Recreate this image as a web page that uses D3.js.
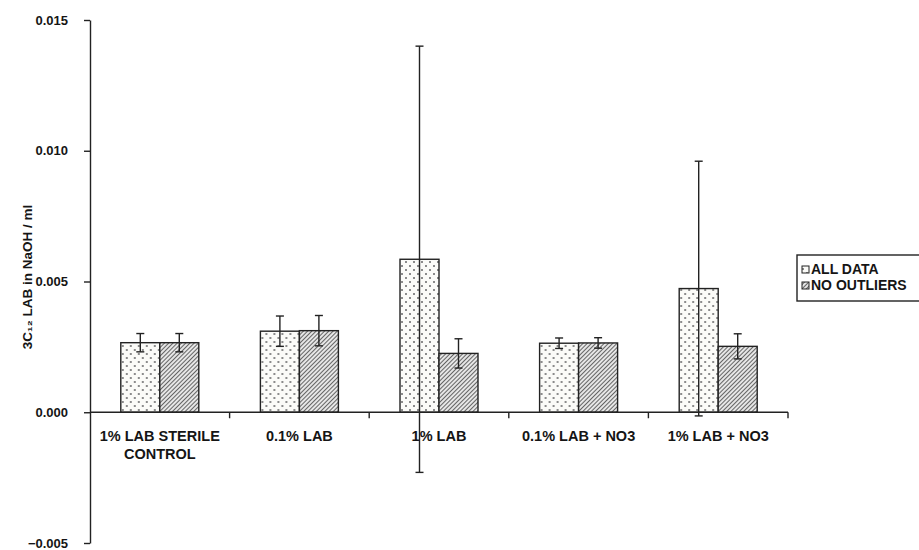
<!DOCTYPE html>
<html>
<head>
<meta charset="utf-8">
<script src="https://cdn.jsdelivr.net/npm/d3@7"></script>
<style>
  html, body { margin: 0; padding: 0; background: #fff; }
  svg { display: block; }
  text { font-family: "Liberation Sans", Arial, sans-serif; fill: #151515; font-weight: bold; }
</style>
</head>
<body>
<svg id="chart" width="919" height="550"></svg>
<script>
// ---- data ----
const categories = ["1% LAB STERILE CONTROL", "0.1% LAB", "1% LAB", "0.1% LAB + NO3", "1% LAB + NO3"];
const categoryLines = [["1% LAB STERILE", "CONTROL"], ["0.1% LAB"], ["1% LAB"], ["0.1% LAB + NO3"], ["1% LAB + NO3"]];
const seriesNames = ["ALL DATA", "NO OUTLIERS"];
const allData = [0.00266, 0.00310, 0.00585, 0.00264, 0.00473];
const allDataErr = [0.00035, 0.00058, 0.00815, 0.00020, 0.00487];
const noOutliers = [0.00266, 0.00312, 0.00225, 0.00265, 0.00252];
const noOutliersErr = [0.00035, 0.00058, 0.00056, 0.00020, 0.00048];
const yTicks = [-0.005, 0.000, 0.005, 0.010, 0.015];
const yLabel = "3C\u2081\u2082 LAB in NaOH / ml";

(function () {
const svg = d3.select("#chart");
const defs = svg.append("defs");

// dotted pattern
const dots = defs.append("pattern").attr("id", "dots").attr("patternUnits", "userSpaceOnUse")
  .attr("width", 8).attr("height", 8);
dots.append("rect").attr("width", 8).attr("height", 8).attr("fill", "#fbfbf8");
dots.append("circle").attr("cx", 2).attr("cy", 2).attr("r", 1).attr("fill", "#666");
dots.append("circle").attr("cx", 6).attr("cy", 6).attr("r", 1).attr("fill", "#666");

// hatched pattern
const hatch = defs.append("pattern").attr("id", "hatch").attr("patternUnits", "userSpaceOnUse")
  .attr("width", 3).attr("height", 3).attr("patternTransform", "rotate(45)");
hatch.append("rect").attr("width", 3).attr("height", 3).attr("fill", "#e6e6e6");
hatch.append("line").attr("x1", 0).attr("y1", 0).attr("x2", 0).attr("y2", 3)
  .attr("stroke", "#3a3a3a").attr("stroke-width", 1.5);

const fills = ["url(#dots)", "url(#hatch)"];

const pLeft = 90, pRight = 788, pTop = 20, pBottom = 543;

const y = d3.scaleLinear().domain([-0.005, 0.015]).range([pBottom, pTop]);
const x0 = d3.scaleBand().domain(categories).range([pLeft, pRight]).paddingInner(0).paddingOuter(0);
const x1 = d3.scaleBand().domain(seriesNames).range([0, 78]).padding(0);

// y axis
const yAxis = d3.axisLeft(y).tickValues(yTicks).tickFormat(d3.format(".3f")).tickSize(6).tickSizeOuter(0);
const gy = svg.append("g").attr("transform", `translate(${pLeft},0)`).call(yAxis);
gy.select(".domain").attr("stroke", "#222").attr("stroke-width", 1.4);
gy.selectAll(".tick line").attr("stroke", "#222").attr("stroke-width", 1.4);
gy.selectAll(".tick text").attr("x", -22).attr("font-size", 13)
  .attr("font-family", "Liberation Sans, Arial, sans-serif").attr("font-weight", "bold").attr("fill", "#151515");

// y label
svg.append("text")
  .attr("transform", `translate(32,${277}) rotate(-90)`)
  .attr("text-anchor", "middle")
  .attr("font-size", 13.5)
  .text(yLabel);

// bars
const groups = svg.append("g").selectAll("g").data(categories).join("g")
  .attr("transform", d => `translate(${x0(d) + x0.bandwidth() / 2 - 39},0)`);

const seriesVals = [allData, noOutliers];
const seriesErr = [allDataErr, noOutliersErr];

groups.each(function(cat, ci) {
  const g = d3.select(this);
  seriesNames.forEach((s, si) => {
    const v = seriesVals[si][ci];
    g.append("rect")
      .attr("x", x1(s))
      .attr("y", y(Math.max(0, v)))
      .attr("width", x1.bandwidth())
      .attr("height", Math.abs(y(v) - y(0)))
      .attr("fill", fills[si])
      .attr("stroke", "#222")
      .attr("stroke-width", 1.4);
  });
});

// x axis
const xAxisG = svg.append("g").attr("transform", `translate(0,${y(0)})`);
xAxisG.append("line").attr("x1", pLeft).attr("x2", pRight).attr("y1", 0).attr("y2", 0)
  .attr("stroke", "#222").attr("stroke-width", 1.4);
const tickPos = categories.map(c => x0(c)).concat([x0(categories[categories.length - 1]) + x0.bandwidth()]);
xAxisG.selectAll("line.tk").data(tickPos.slice(1)).join("line").attr("class", "tk")
  .attr("x1", d => d).attr("x2", d => d).attr("y1", 0).attr("y2", 6)
  .attr("stroke", "#222").attr("stroke-width", 1.4);

// category labels
categories.forEach((c, i) => {
  const t = svg.append("text").attr("text-anchor", "middle").attr("font-size", 14.5)
    .attr("x", x0(c) + x0.bandwidth() / 2).attr("y", 441);
  categoryLines[i].forEach((ln, li) => {
    t.append("tspan").attr("x", x0(c) + x0.bandwidth() / 2).attr("dy", li === 0 ? 0 : 18).text(ln);
  });
});

// error bars
groups.each(function(cat, ci) {
  const g = d3.select(this);
  seriesNames.forEach((s, si) => {
    const v = seriesVals[si][ci], e = seriesErr[si][ci];
    const cx = x1(s) + x1.bandwidth() / 2;
    g.append("line").attr("x1", cx).attr("x2", cx).attr("y1", y(v + e)).attr("y2", y(v - e))
      .attr("stroke", "#222").attr("stroke-width", 1.4);
    [v + e, v - e].forEach(ev => {
      g.append("line").attr("x1", cx - 4).attr("x2", cx + 4).attr("y1", y(ev)).attr("y2", y(ev))
        .attr("stroke", "#222").attr("stroke-width", 1.4);
    });
  });
});

// legend
const lg = svg.append("g").attr("transform", "translate(797,255)");
lg.append("rect").attr("x", 0).attr("y", 0).attr("width", 140).attr("height", 46)
  .attr("fill", "#fff").attr("stroke", "#222").attr("stroke-width", 1.4);
seriesNames.forEach((s, i) => {
  lg.append("rect").attr("x", 5).attr("y", 11 + i * 16).attr("width", 7).attr("height", 7)
    .attr("fill", fills[i]).attr("stroke", "#222").attr("stroke-width", 1);
  lg.append("text").attr("x", 14).attr("y", 19 + i * 16).attr("font-size", 14).text(s);
});
})();
</script>
</body>
</html>
